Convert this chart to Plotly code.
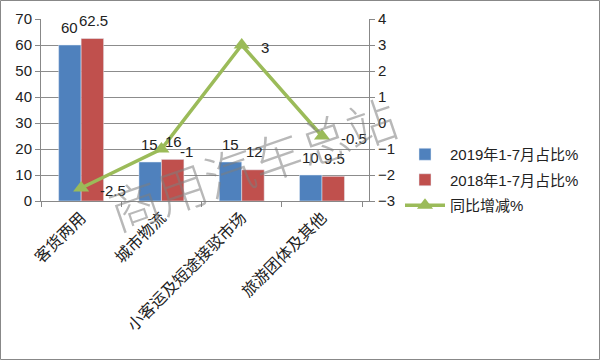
import plotly.graph_objects as go

categories = ["客货两用", "城市物流", "小客运及短途接驳市场", "旅游团体及其他"]
share_2019 = [60, 15, 15, 10]
share_2018 = [62.5, 16, 12, 9.5]
yoy_change = [-2.5, -1, 3, -0.5]

L, R, T, B = 41, 231, 19, 159
W, H = 600, 360
pw, ph = W - L - R, H - T - B

tick_font = dict(family="Liberation Sans, Arial, sans-serif", size=15, color="#222")

fig = go.Figure()
fig.add_trace(go.Bar(
    x=categories, y=share_2019, name="2019年1-7月占比%", legendgroup="a",
    marker=dict(color="#4F81BD"),
))
fig.add_trace(go.Bar(
    x=categories, y=share_2018, name="2018年1-7月占比%", legendgroup="b",
    marker=dict(color="#C0504D"),
))
fig.add_trace(go.Scatter(
    x=categories, y=yoy_change, name="同比增减%", yaxis="y2", legendgroup="c",
    mode="lines+markers",
    line=dict(color="#9BBB59", width=3.5),
    marker=dict(symbol="triangle-up", size=14, color="#9BBB59"),
))

annotations = []
for cat, v in zip(categories, share_2019):
    annotations.append(dict(x=cat, y=v, xref="x", yref="y", text=str(v), showarrow=False,
                            xshift=-11.5, yshift=18, font=tick_font))
for cat, v in zip(categories, share_2018):
    annotations.append(dict(x=cat, y=v, xref="x", yref="y", text=str(v), showarrow=False,
                            xshift=12.5, yshift=18, font=tick_font))
for cat, v in zip(categories, yoy_change):
    annotations.append(dict(x=cat, y=v, xref="x", yref="y2", text=str(v), showarrow=False,
                            xanchor="left", xshift=17, yshift=-2, font=tick_font))

annotations.append(dict(
    text="商用汽车总站", xref="paper", yref="paper",
    x=(252 - L) / pw, y=(201 - 162) / ph, xanchor="center", yanchor="middle",
    showarrow=False, textangle=-19,
    font=dict(family="Noto Sans CJK SC, sans-serif", size=50, weight=200,
              color="rgba(125,125,125,0.55)"),
))

fig.update_layout(
    width=W, height=H,
    margin=dict(l=L, r=R, t=T, b=B),
    paper_bgcolor="white", plot_bgcolor="white",
    barmode="group", bargap=0.44, bargroupgap=0,
    showlegend=True,
    legend=dict(
        x=(400 - L) / pw, y=(201 - 138) / ph, xanchor="left", yanchor="top",
        font=dict(family="Liberation Sans, Noto Sans CJK SC, sans-serif", size=15, color="#222"),
        itemwidth=40, tracegroupgap=3, bgcolor="rgba(0,0,0,0)",
    ),
    xaxis=dict(
        type="category", showline=True, linecolor="#888", linewidth=1,
        ticks="outside", tickson="boundaries", ticklen=5, tickcolor="#888",
        tickangle=-45, automargin=False,
        tickfont=dict(family="Noto Sans CJK SC, sans-serif", size=16, color="#222"),
        showgrid=False,
    ),
    yaxis=dict(
        range=[0, 70], dtick=10, showline=True, linecolor="#888", linewidth=1,
        ticks="outside", ticklen=5, tickcolor="#888", automargin=False,
        showgrid=True, gridcolor="#8c8c8c", gridwidth=1,
        tickfont=tick_font, zeroline=False,
    ),
    yaxis2=dict(
        range=[-3, 4], dtick=1, overlaying="y", side="right",
        showline=True, linecolor="#888", linewidth=1, automargin=False,
        ticks="outside", ticklen=5, tickcolor="#888",
        showgrid=False, zeroline=False, tickfont=tick_font,
    ),
    annotations=annotations,
    shapes=[dict(
        type="rect", xref="paper", yref="paper",
        x0=(0.5 - L) / pw, x1=(W - 0.5 - L) / pw,
        y0=(201 - (H - 0.5)) / ph, y1=(201 - 0.5) / ph,
        line=dict(color="#888", width=1), fillcolor="rgba(0,0,0,0)", layer="above",
    )],
)

fig.write_html("out.html", config={"displayModeBar": False},
               post_script="document.body.style.margin='0';")
